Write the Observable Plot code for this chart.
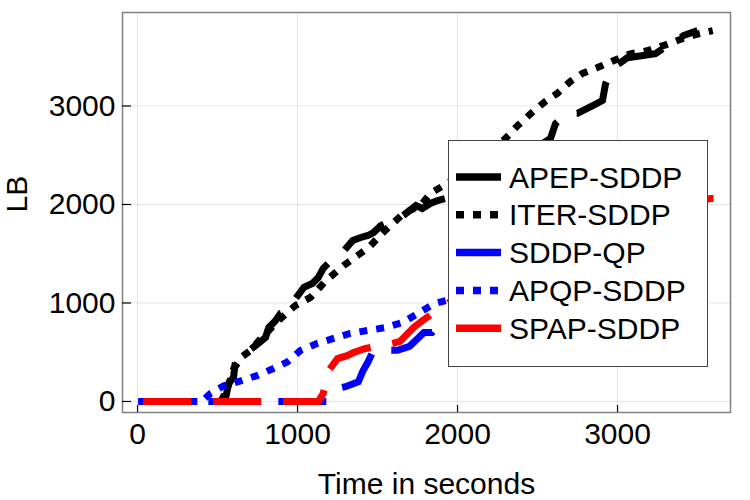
<!DOCTYPE html>
<html>
<head>
<meta charset="utf-8">
<script src="https://cdn.jsdelivr.net/npm/d3@7"></script>
<script src="https://cdn.jsdelivr.net/npm/@observablehq/plot@0.6"></script>
<style>
  html, body { margin: 0; padding: 0; background: white; }
  #wrap { position: relative; width: 750px; height: 500px; font-family: "Liberation Sans", Arial, sans-serif; }
  #legend { position: absolute; left: 448px; top: 140px; width: 260px; height: 227px; box-sizing: border-box;
            border: 1.2px solid #444; background: white; }
</style>
</head>
<body>
<div id="wrap"><div id="chart"></div><div id="legend"></div></div>
<script>
// ---- data ----
const xTicks = [0, 1000, 2000, 3000];
const yTicks = [0, 1000, 2000, 3000];
const seriesNames = ["APEP-SDDP", "ITER-SDDP", "SDDP-QP", "APQP-SDDP", "SPAP-SDDP"];
const seriesColors = ["#000000", "#000000", "#0000ff", "#0000ff", "#ff0000"];
const seriesDash = ["48,22", "8,9", "48,22", "8,9", "48,22"];

const apepT  = [490, 530, 550, 570, 600, 610, 630, 700, 756, 800, 820, 862, 894, 937, 990, 1040, 1095, 1130, 1160, 1190, 1225, 1290, 1345, 1395, 1440, 1475, 1520, 1560, 1595, 1670, 1740, 1780, 1830, 1875, 1945, 2100, 2300, 2450, 2581, 2612, 2656, 2706, 2750, 2830, 2906, 2925, 2956, 2987, 3019, 3062, 3150, 3237, 3287, 3350, 3412, 3500];
const apepLB = [0, 0, 30, 185, 245, 385, 445, 520, 590, 650, 750, 820, 895, 925, 1050, 1160, 1200, 1260, 1350, 1400, 1430, 1530, 1635, 1665, 1685, 1715, 1785, 1815, 1815, 1900, 1990, 1960, 2010, 2040, 2070, 2200, 2400, 2530, 2670, 2820, 2885, 2925, 2925, 2990, 3055, 3225, 3340, 3410, 3440, 3490, 3510, 3530, 3585, 3635, 3715, 3765];

const iterT  = [520, 560, 600, 650, 706, 760, 820, 880, 940, 988, 1081, 1180, 1288, 1375, 1444, 1550, 1663, 1769, 1831, 1900, 2000, 2100, 2200, 2300, 2375, 2456, 2540, 2625, 2706, 2780, 2875, 2975, 3080, 3185, 3300, 3400, 3500, 3595];
const iterLB = [0, 120, 330, 450, 518, 620, 720, 820, 910, 975, 1056, 1230, 1380, 1482, 1563, 1740, 1909, 1990, 2112, 2180, 2280, 2400, 2540, 2670, 2800, 2920, 3035, 3130, 3250, 3330, 3390, 3460, 3530, 3560, 3620, 3680, 3730, 3765];

const qpT  = [5, 1190, 1230, 1270, 1300, 1380, 1410, 1440, 1475, 1625, 1700, 1790, 1840, 1870, 1900, 1945, 2100, 2300, 2600, 2900, 3200, 3450, 3570, 3600];
const qpLB = [0, 0, 90, 140, 150, 200, 315, 400, 520, 520, 560, 700, 700, 760, 820, 845, 900, 1000, 1150, 1300, 1400, 1470, 1510, 1470];

const apqpT  = [5, 400, 455, 540, 645, 750, 850, 935, 1020, 1125, 1225, 1330, 1435, 1550, 1655, 1750, 1850, 1940, 2100, 2400, 2800, 3200, 3550];
const apqpLB = [0, 0, 80, 160, 210, 265, 335, 400, 520, 590, 640, 690, 720, 750, 800, 890, 990, 1030, 1120, 1250, 1380, 1460, 1500];

const spapT  = [35, 1130, 1160, 1195, 1250, 1310, 1350, 1425, 1500, 1595, 1640, 1725, 1780, 1850, 1935, 2100, 2400, 2700, 3000, 3300, 3580, 3600];
const spapLB = [0, 0, 80, 315, 435, 465, 497, 538, 560, 590, 610, 750, 820, 900, 990, 1200, 1500, 1700, 1850, 1950, 2060, 2060];

const seriesT  = [apepT, iterT, qpT, apqpT, spapT];
const seriesLB = [apepLB, iterLB, qpLB, apqpLB, spapLB];

// ---- build chart ----
const tables = seriesNames.map((name, i) => seriesT[i].map((t, j) => ({t, lb: seriesLB[i][j], name})));

const W = 750, H = 500, mL = 122, mR = 20, mT = 12, mB = 88;
const frameW = W - mL - mR, frameH = H - mT - mB;

const chart = Plot.plot({
  width: W, height: H,
  marginLeft: mL, marginRight: mR, marginTop: mT, marginBottom: mB,
  style: {fontFamily: "Liberation Sans, Arial, sans-serif", fontSize: "30px", color: "black", background: "white"},
  x: {domain: [-94, 3706]},
  y: {domain: [-112, 3949]},
  marks: [
    Plot.gridX(xTicks, {stroke: "#000", strokeOpacity: 0.1, strokeWidth: 1}),
    Plot.gridY(yTicks, {stroke: "#000", strokeOpacity: 0.1, strokeWidth: 1}),
    ...tables.map((rows, i) => Plot.line(rows, {
      x: "t", y: "lb", stroke: seriesColors[i], strokeWidth: 7,
      strokeDasharray: seriesDash[i], strokeLinecap: "butt", strokeLinejoin: "miter", strokeMiterlimit: 2
    })),
    Plot.frame({stroke: "#808080", strokeWidth: 1.5}),
    Plot.tickX(xTicks, {x: d => d, stroke: "#000", strokeWidth: 1.2, insetTop: frameH - 7}),
    Plot.tickY(yTicks, {y: d => d, stroke: "#000", strokeWidth: 1.2, insetRight: frameW - 9}),
    Plot.axisX(xTicks, {tickSize: 0, tickPadding: 10, label: null, fontSize: 30, tickFormat: d => String(d)}),
    Plot.axisY(yTicks, {tickSize: 0, tickPadding: 7, label: null, fontSize: 30, tickFormat: d => String(d)}),
    Plot.text(["Time in seconds"], {text: d => d, frameAnchor: "bottom", dy: 72, lineAnchor: "middle", fontSize: 30}),
    Plot.text(["LB"], {text: d => d, frameAnchor: "left", dx: -105, rotate: -90, lineAnchor: "middle", fontSize: 30})
  ]
});
document.getElementById("chart").appendChild(chart);

// ---- legend (inside the plot area, top-right) ----
const ns = "http://www.w3.org/2000/svg";
const lg = document.createElementNS(ns, "svg");
lg.setAttribute("width", 258); lg.setAttribute("height", 225);
lg.style.display = "block";
seriesNames.forEach((name, i) => {
  const cy = 36 + i * 37.8;
  const ln = document.createElementNS(ns, "line");
  ln.setAttribute("x1", 7); ln.setAttribute("x2", 52);
  ln.setAttribute("y1", cy); ln.setAttribute("y2", cy);
  ln.setAttribute("stroke", seriesColors[i]);
  ln.setAttribute("stroke-width", 7.5);
  ln.setAttribute("stroke-dasharray", seriesDash[i]);
  lg.appendChild(ln);
  const tx = document.createElementNS(ns, "text");
  tx.setAttribute("x", 60); tx.setAttribute("y", cy + 10.5);
  tx.setAttribute("font-size", 30);
  tx.setAttribute("font-family", "Liberation Sans, Arial, sans-serif");
  tx.textContent = name;
  lg.appendChild(tx);
});
document.getElementById("legend").appendChild(lg);
</script>
</body>
</html>
